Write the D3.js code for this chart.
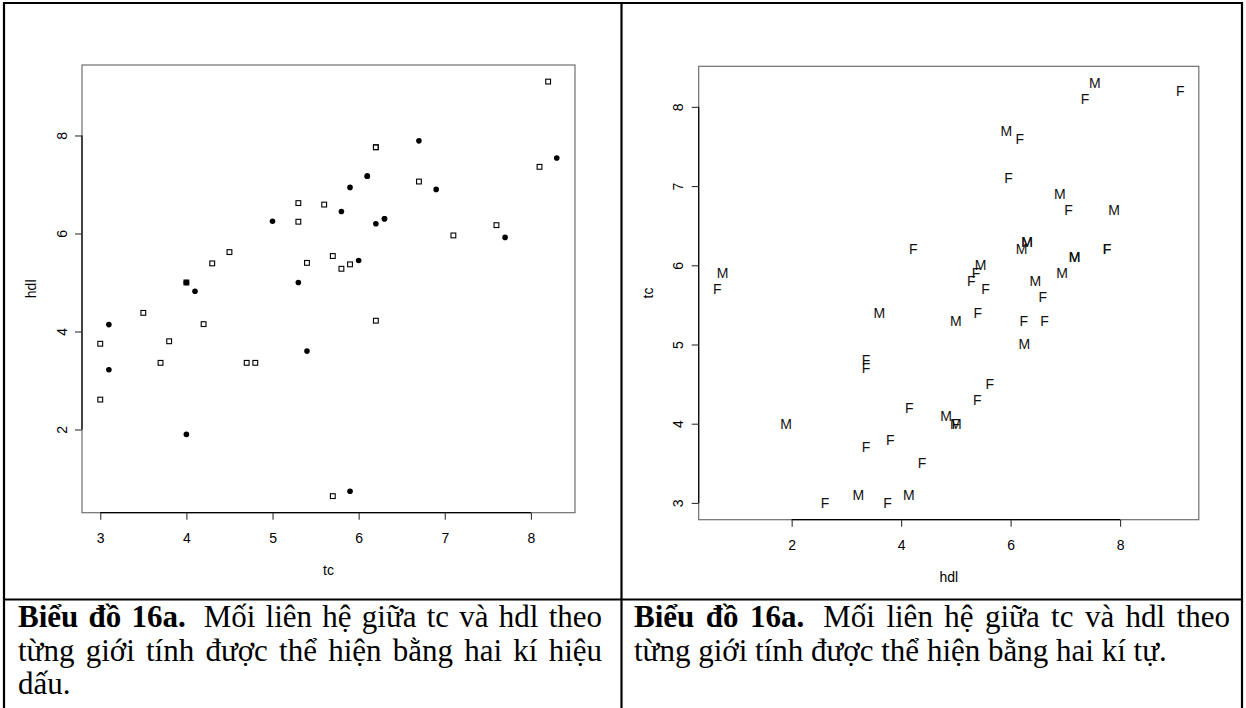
<!DOCTYPE html>
<html><head><meta charset="utf-8">
<script src="https://cdn.jsdelivr.net/npm/d3@7"></script>
<style>html,body{margin:0;padding:0;background:#fff;}svg{display:block;}</style>
</head><body>
<svg id="c" width="1246" height="708"></svg>
<script>
// ---- data (tc, hdl, sex) ----
const sex = ["F","F","F","F","F","F","F","F","F","F","F","F","F","F","F","F","F","F","F","F","F","F","F","F","F","F","F",
             "M","M","M","M","M","M","M","M","M","M","M","M","M","M","M","M","M","M","M","M","M"];
const tc  = [8.2,6.2,6.2,8.1,6.7,5.3,5.6,5.3,7.6,7.1,4.5,5.7,4.3,5.4,5.9,5.8,4.0,3.5,6.2,4.2,3.0,3.8,3.7,4.7,4.8,3.0,5.7,
             6.7,8.3,6.1,6.1,5.9,6.9,5.8,5.0,6.3,6.3,6.2,7.7,6.0,4.0,4.1,5.3,3.1,5.4,3.1,4.0,5.9];
const hdl = [9.10,7.76,7.76,7.36,7.06,6.62,6.59,6.24,6.17,5.96,5.62,5.54,5.39,5.40,5.37,5.28,5.00,4.38,4.22,4.15,3.75,3.80,3.36,3.36,3.36,2.61,0.64,
             7.89,7.54,7.17,7.17,6.94,6.90,6.45,6.25,6.30,6.30,6.20,5.92,5.45,5.00,4.82,5.00,4.14,3.60,3.22,1.90,0.74];
const tcTicks  = [3,4,5,6,7,8];
const hdlTicks = [2,4,6,8];
const tcTicksR = [3,4,5,6,7,8];
const hdlTicksR= [2,4,6,8];
const caption1 = ["Biểu đồ 16a.", "Mối liên hệ giữa tc và hdl theo", "từng giới tính được thể hiện bằng hai kí hiệu", "dấu."];
const caption2 = ["Biểu đồ 16a.", "Mối liên hệ giữa tc và hdl theo", "từng giới tính được thể hiện bằng hai kí tự."];

const pts = tc.map((d,i)=>({tc:d, hdl:hdl[i], sex:sex[i]}));
function rExt(arr){const [a,b]=d3.extent(arr);const p=(b-a)*0.04;return [a-p,b+p];}

const svg = d3.select("#c");
const SANS = "'Liberation Sans', Arial, Helvetica, sans-serif";
const SERIF = "'Liberation Serif', 'Times New Roman', serif";

// ---- table frame ----
const frame = svg.append("g").attr("stroke","#000").attr("stroke-width",2.2).attr("fill","none");
frame.append("line").attr("x1",4).attr("x2",4).attr("y1",2).attr("y2",708);
frame.append("line").attr("x1",1242).attr("x2",1242).attr("y1",2).attr("y2",708);
frame.append("line").attr("x1",621.5).attr("x2",621.5).attr("y1",2).attr("y2",708);
frame.append("line").attr("x1",3).attr("x2",1243).attr("y1",3).attr("y2",3);
frame.append("line").attr("x1",3).attr("x2",1243).attr("y1",599.5).attr("y2",599.5);

// ---- generic R-style plot ----
function rplot(box, xs, ys, xTicks, yTicks, xLab, yLab, drawPts){
  const g = svg.append("g");
  const x = d3.scaleLinear().domain(rExt(xs)).range([box.x0, box.x1]);
  const y = d3.scaleLinear().domain(rExt(ys)).range([box.y1, box.y0]);
  g.append("rect").attr("x",box.x0).attr("y",box.y0).attr("width",box.x1-box.x0).attr("height",box.y1-box.y0)
    .attr("fill","none").attr("stroke","#6e6e6e").attr("stroke-width",1.2);
  const xa = g.append("g").attr("transform",`translate(0,${box.y1})`)
    .call(d3.axisBottom(x).tickValues(xTicks).tickSize(7).tickPadding(10).tickFormat(d3.format("d")));
  const ya = g.append("g").attr("transform",`translate(${box.x0},0)`)
    .call(d3.axisLeft(y).tickValues(yTicks).tickSize(7).tickPadding(10).tickFormat(d3.format("d")));
  [xa,ya].forEach(a=>{
    a.select(".domain").attr("stroke","#000").attr("stroke-width",1.2);
    a.selectAll(".tick line").attr("stroke","#333").attr("stroke-width",1.1);
    a.selectAll("text").attr("font-family",SANS).attr("font-size",14).attr("fill","#000");
  });
  xa.select(".domain").attr("d",`M${x(xTicks[0])},0H${x(xTicks[xTicks.length-1])}`);
  ya.select(".domain").attr("d",`M0,${y(yTicks[0])}V${y(yTicks[yTicks.length-1])}`);
  xa.selectAll(".tick text").attr("dy",null).attr("y",25).attr("dominant-baseline","central");
  ya.selectAll(".tick text").attr("x",null).attr("dy",null)
    .attr("text-anchor","middle").attr("dominant-baseline","central")
    .attr("transform","translate(-20.5,0) rotate(-90)");
  g.append("text").attr("x",(box.x0+box.x1)/2).attr("y",box.y1+57).attr("text-anchor","middle")
    .attr("dominant-baseline","central").attr("font-family",SANS).attr("font-size",14).text(xLab);
  g.append("text").attr("transform",`translate(${box.x0-51},${(box.y0+box.y1)/2}) rotate(-90)`)
    .attr("text-anchor","middle").attr("dominant-baseline","central")
    .attr("font-family",SANS).attr("font-size",14).text(yLab);
  drawPts(g,x,y);
}

// left: tc vs hdl, F = open square, M = filled dot
rplot({x0:82,x1:575,y0:65,y1:512.7}, tc, hdl, tcTicks, hdlTicks, "tc", "hdl", (g,x,y)=>{
  g.selectAll(".sq").data(pts.filter(d=>d.sex==="F")).join("rect")
    .attr("x",d=>x(d.tc)-2.4).attr("y",d=>y(d.hdl)-2.4).attr("width",4.8).attr("height",4.8)
    .attr("fill","none").attr("stroke","#000").attr("stroke-width",1.1);
  g.selectAll(".dot").data(pts.filter(d=>d.sex==="M")).join("circle")
    .attr("cx",d=>x(d.tc)).attr("cy",d=>y(d.hdl)).attr("r",2.8).attr("fill","#000");
});

// right: hdl vs tc, letters
rplot({x0:698.7,x1:1198.8,y0:66.3,y1:519.7}, hdl, tc, hdlTicksR, tcTicksR, "hdl", "tc", (g,x,y)=>{
  g.selectAll(".lab").data(pts).join("text")
    .attr("x",d=>x(d.hdl)).attr("y",d=>y(d.tc)).attr("text-anchor","middle").attr("dominant-baseline","central")
    .attr("font-family",SANS).attr("font-size",14).attr("fill","#111").text(d=>d.sex);
});

// ---- captions (justified lines) ----
const CF = 31;
function measure(txt, bold){
  const t = svg.append("text").attr("font-family",SERIF).attr("font-size",CF).attr("font-weight",bold?"bold":"normal").text(txt);
  const w = t.node().getComputedTextLength(); t.remove(); return w;
}
const SPACE = measure("a a",false)-measure("aa",false);
function captionLine(x0, x1, yb, segs, justify){
  const words = [];
  segs.forEach((s,si)=>s.text.split(" ").forEach((w,wi)=>words.push({w, bold:s.bold, extra:(si>0&&wi===0)?SPACE:0})));
  const widths = words.map(d=>measure(d.w,d.bold));
  const total = d3.sum(widths) + d3.sum(words, d=>d.extra);
  const nGap = words.length-1;
  const gap = justify ? Math.max((x1-x0-total)/nGap, SPACE*0.6) : SPACE;
  let cx = x0;
  words.forEach((d,i)=>{
    cx += d.extra;
    svg.append("text").attr("x",cx).attr("y",yb).attr("font-family",SERIF).attr("font-size",CF)
      .attr("font-weight",d.bold?"bold":"normal").attr("fill","#000").text(d.w);
    cx += widths[i] + gap;
  });
}
function caption(x0,x1,lines){
  const base=[627,660.5,694];
  captionLine(x0,x1,base[0],[{text:lines[0],bold:true},{text:lines[1],bold:false}],true);
  lines.slice(2).forEach((l,i)=>{
    const last = i===lines.length-3;
    captionLine(x0,x1,base[i+1],[{text:l,bold:false}],!last);
  });
}
caption(18,602,caption1);
caption(634,1230,caption2);
</script>
</body></html>
